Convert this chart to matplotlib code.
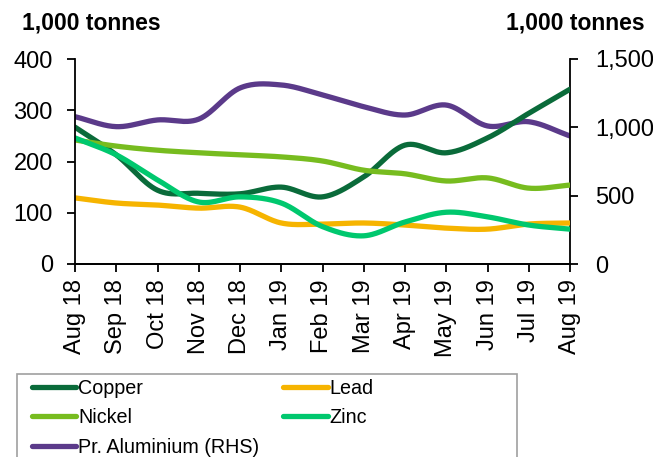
import numpy as np
import matplotlib.pyplot as plt
from matplotlib.patches import Rectangle

plt.rcParams['font.family'] = ['Liberation Sans', 'DejaVu Sans']

# --- données (1,000 tonnes) ---
months = ['Aug 18', 'Sep 18', 'Oct 18', 'Nov 18', 'Dec 18', 'Jan 19', 'Feb 19',
          'Mar 19', 'Apr 19', 'May 19', 'Jun 19', 'Jul 19', 'Aug 19']
copper = [267, 213, 144, 138, 137, 150, 131, 170, 232, 217, 246, 294, 341]
lead = [129, 119, 115, 109, 111, 80, 78, 80, 76, 70, 68, 78, 80]
nickel = [242, 230, 222, 217, 213, 209, 201, 183, 176, 162, 168, 148, 154]
zinc = [246, 213, 164, 121, 131, 119, 73, 55, 82, 101, 92, 76, 68]
aluminium = [1078, 1005, 1054, 1060, 1288, 1310, 1237, 1151, 1090, 1163, 1010, 1041, 937]

C_COPPER = '#0A6B3A'
C_LEAD = '#F6B400'
C_NICKEL = '#77BC1F'
C_ZINC = '#00C86E'
C_ALU = '#5B3A8A'


def smooth(y, n=30):
    # courbe lissée type Excel (Catmull-Rom)
    y = np.asarray(y, float)
    p = np.concatenate([[2 * y[0] - y[1]], y, [2 * y[-1] - y[-2]]])
    xs, ys = [], []
    for i in range(len(y) - 1):
        p0, p1, p2, p3 = p[i], p[i + 1], p[i + 2], p[i + 3]
        t = np.linspace(0, 1, n, endpoint=False)
        b1 = p1 + (p2 - p0) / 6
        b2 = p2 - (p3 - p1) / 6
        yy = (1 - t) ** 3 * p1 + 3 * (1 - t) ** 2 * t * b1 + 3 * (1 - t) * t ** 2 * b2 + t ** 3 * p2
        xs.append(i + t)
        ys.append(yy)
    xs.append([len(y) - 1])
    ys.append([y[-1]])
    return np.concatenate(xs), np.concatenate(ys)


W, H = 653, 457
fig = plt.figure(figsize=(W / 100, H / 100), dpi=100)
ax = fig.add_axes([75 / W, 1 - 264 / H, 495 / W, 205 / H])
ax2 = ax.twinx()

lw = 3.8
handles = {}
for vals, col, lab in [(copper, C_COPPER, 'Copper'), (lead, C_LEAD, 'Lead'),
                       (nickel, C_NICKEL, 'Nickel'), (zinc, C_ZINC, 'Zinc')]:
    sx, sy = smooth(vals)
    handles[lab], = ax.plot(sx, sy, color=col, lw=lw, solid_capstyle='round', label=lab)
sx, sy = smooth(aluminium)
handles['Pr. Aluminium (RHS)'], = ax2.plot(sx, sy, color=C_ALU, lw=lw, solid_capstyle='round',
                                          label='Pr. Aluminium (RHS)')
ax.set_zorder(ax2.get_zorder() + 1)
ax.patch.set_visible(False)

ax.set_xlim(0, len(months) - 1)
ax.set_ylim(0, 400)
ax2.set_ylim(0, 1500)
ax.set_yticks([0, 100, 200, 300, 400])
ax2.set_yticks([0, 500, 1000, 1500])
ax2.set_yticklabels(['0', '500', '1,000', '1,500'])
ax.set_xticks(range(len(months)))
ax.set_xticklabels(months, rotation=90)

for a in (ax, ax2):
    a.spines['top'].set_visible(False)
    for s in a.spines.values():
        s.set_linewidth(1.3)
ax.spines['right'].set_visible(False)
ax2.spines['left'].set_visible(False)
ax.tick_params(axis='y', direction='out', length=6, width=1.3, labelsize=17, pad=10)
ax.tick_params(axis='x', direction='out', length=6, width=1.3, labelsize=17, pad=5)
ax2.tick_params(axis='y', direction='out', length=6, width=1.3, labelsize=17, pad=12)

fig.text(22 / W, 1 - 23 / H, '1,000 tonnes', fontsize=16.5, fontweight='bold', va='center', ha='left')
fig.text(645 / W, 1 - 23 / H, '1,000 tonnes', fontsize=16.5, fontweight='bold', va='center', ha='right')

# cadre de légende (coupé en bas comme l'original)
fig.add_artist(Rectangle((17 / W, -0.05), 500 / W, 1 - 374 / H + 0.05, transform=fig.transFigure,
                         facecolor='none', edgecolor='#A0A0A0', lw=1.2))

# ordre ligne par ligne comme dans l'original
order = ['Copper', 'Nickel', 'Pr. Aluminium (RHS)', 'Lead', 'Zinc']
leg = fig.legend([handles[k] for k in order], order, ncol=2, loc='upper left',
                 bbox_to_anchor=(32 / W, 1 - 379 / H), frameon=False,
                 fontsize=14.2, borderaxespad=0, borderpad=0,
                 handlelength=2.25, handletextpad=0.1, labelspacing=0.52,
                 columnspacing=1.2)

plt.savefig('out.png', dpi=100)
